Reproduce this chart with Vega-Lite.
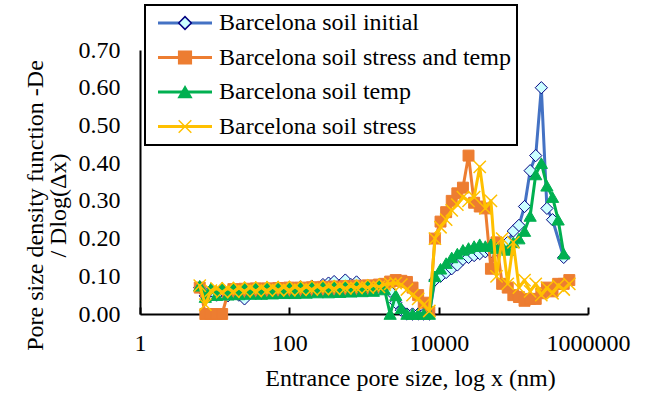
{
"$schema": "https://vega.github.io/schema/vega-lite/v6.json",
"width": 448, "height": 264,
"autosize": "none",
"padding": {"left": 140, "top": 50, "right": 64, "bottom": 80},
"background": "white",
"config": {"view": {"stroke": null}, "font": "Liberation Serif", "legend": {"strokeWidth": 2}},
"datasets": {
"A": [{"x":6.31,"y":0.07},{"x":7.5,"y":0.048},{"x":8.91,"y":0.062},{"x":10.6,"y":0.05},{"x":12.6,"y":0.064},{"x":15,"y":0.048},{"x":17.8,"y":0.062},{"x":21.1,"y":0.05},{"x":25.1,"y":0.04},{"x":29.9,"y":0.058},{"x":35.5,"y":0.062},{"x":42.2,"y":0.055},{"x":50.1,"y":0.066},{"x":59.6,"y":0.056},{"x":70.8,"y":0.068},{"x":84.1,"y":0.058},{"x":100,"y":0.07},{"x":119,"y":0.06},{"x":141,"y":0.072},{"x":168,"y":0.062},{"x":200,"y":0.074},{"x":237,"y":0.066},{"x":282,"y":0.078},{"x":335,"y":0.082},{"x":398,"y":0.086},{"x":473,"y":0.076},{"x":562,"y":0.09},{"x":668,"y":0.078},{"x":794,"y":0.085},{"x":944,"y":0.07},{"x":1122,"y":0.075},{"x":1334,"y":0.065},{"x":1585,"y":0.075},{"x":1884,"y":0.068},{"x":2239,"y":0.06},{"x":2661,"y":0.03},{"x":3162,"y":0.01},{"x":3758,"y":0},{"x":4467,"y":0},{"x":5309,"y":0},{"x":6310,"y":0},{"x":7499,"y":0},{"x":8913,"y":0.09},{"x":10593,"y":0.1},{"x":12589,"y":0.11},{"x":14962,"y":0.12},{"x":17783,"y":0.13},{"x":21135,"y":0.145},{"x":25119,"y":0.15},{"x":29854,"y":0.155},{"x":35481,"y":0.16},{"x":42170,"y":0.165},{"x":50119,"y":0.165},{"x":59566,"y":0.17},{"x":70795,"y":0.18},{"x":84140,"y":0.19},{"x":100000,"y":0.22},{"x":118850,"y":0.235},{"x":141254,"y":0.285},{"x":167880,"y":0.38},{"x":199526,"y":0.42},{"x":237137,"y":0.6},{"x":281838,"y":0.28},{"x":334965,"y":0.25},{"x":473151,"y":0.15}],
"B": [{"x":6.31,"y":0.07},{"x":7.5,"y":0},{"x":8.91,"y":0},{"x":10.6,"y":0},{"x":12.6,"y":0},{"x":15,"y":0.055},{"x":17.8,"y":0.066},{"x":21.1,"y":0.055},{"x":25.1,"y":0.067},{"x":29.9,"y":0.056},{"x":35.5,"y":0.068},{"x":42.2,"y":0.057},{"x":50.1,"y":0.068},{"x":59.6,"y":0.058},{"x":70.8,"y":0.069},{"x":84.1,"y":0.058},{"x":100,"y":0.07},{"x":119,"y":0.059},{"x":141,"y":0.07},{"x":168,"y":0.06},{"x":200,"y":0.071},{"x":237,"y":0.061},{"x":282,"y":0.072},{"x":335,"y":0.062},{"x":398,"y":0.073},{"x":473,"y":0.063},{"x":562,"y":0.074},{"x":668,"y":0.064},{"x":794,"y":0.075},{"x":944,"y":0.066},{"x":1122,"y":0.076},{"x":1334,"y":0.07},{"x":1585,"y":0.078},{"x":1884,"y":0.08},{"x":2239,"y":0.086},{"x":2661,"y":0.09},{"x":3162,"y":0.088},{"x":3758,"y":0.085},{"x":4467,"y":0.07},{"x":5309,"y":0.05},{"x":6310,"y":0.03},{"x":7499,"y":0.005},{"x":8913,"y":0.2},{"x":10593,"y":0.245},{"x":12589,"y":0.27},{"x":14962,"y":0.3},{"x":17783,"y":0.32},{"x":21135,"y":0.335},{"x":25119,"y":0.42},{"x":29854,"y":0.295},{"x":35481,"y":0.285},{"x":42170,"y":0.28},{"x":50119,"y":0.12},{"x":59566,"y":0.19},{"x":70795,"y":0.08},{"x":84140,"y":0.07},{"x":100000,"y":0.05},{"x":118850,"y":0.045},{"x":141254,"y":0.035},{"x":167880,"y":0.04},{"x":199526,"y":0.04},{"x":237137,"y":0.055},{"x":281838,"y":0.07},{"x":334965,"y":0.06},{"x":398107,"y":0.08},{"x":473151,"y":0.08},{"x":562341,"y":0.09}],
"C": [{"x":6.31,"y":0.075},{"x":7.5,"y":0.045},{"x":8.91,"y":0.068},{"x":10.6,"y":0.05},{"x":12.6,"y":0.069},{"x":15,"y":0.051},{"x":17.8,"y":0.069},{"x":21.1,"y":0.052},{"x":25.1,"y":0.07},{"x":29.9,"y":0.053},{"x":35.5,"y":0.07},{"x":42.2,"y":0.053},{"x":50.1,"y":0.071},{"x":59.6,"y":0.054},{"x":70.8,"y":0.071},{"x":84.1,"y":0.055},{"x":100,"y":0.071},{"x":119,"y":0.055},{"x":141,"y":0.072},{"x":168,"y":0.056},{"x":200,"y":0.072},{"x":237,"y":0.057},{"x":282,"y":0.073},{"x":335,"y":0.057},{"x":398,"y":0.073},{"x":473,"y":0.058},{"x":562,"y":0.074},{"x":668,"y":0.059},{"x":794,"y":0.074},{"x":944,"y":0.06},{"x":1122,"y":0.075},{"x":1334,"y":0.061},{"x":1585,"y":0.076},{"x":1884,"y":0.065},{"x":2239,"y":0},{"x":2661,"y":0.05},{"x":3162,"y":0.015},{"x":3758,"y":0},{"x":4467,"y":0},{"x":5309,"y":0},{"x":6310,"y":0},{"x":7499,"y":0},{"x":8913,"y":0.1},{"x":10593,"y":0.12},{"x":12589,"y":0.135},{"x":14962,"y":0.15},{"x":17783,"y":0.16},{"x":21135,"y":0.17},{"x":25119,"y":0.175},{"x":29854,"y":0.18},{"x":35481,"y":0.185},{"x":42170,"y":0.18},{"x":50119,"y":0.185},{"x":59566,"y":0.175},{"x":70795,"y":0.18},{"x":84140,"y":0.17},{"x":100000,"y":0.19},{"x":118850,"y":0.2},{"x":141254,"y":0.22},{"x":167880,"y":0.26},{"x":199526,"y":0.37},{"x":237137,"y":0.4},{"x":281838,"y":0.34},{"x":334965,"y":0.31},{"x":398107,"y":0.25},{"x":473151,"y":0.16}],
"D": [{"x":6.31,"y":0.075},{"x":7.5,"y":0.025},{"x":8.91,"y":0.062},{"x":10.6,"y":0.068},{"x":12.6,"y":0.058},{"x":15,"y":0.068},{"x":17.8,"y":0.059},{"x":21.1,"y":0.069},{"x":25.1,"y":0.06},{"x":29.9,"y":0.07},{"x":35.5,"y":0.061},{"x":42.2,"y":0.07},{"x":50.1,"y":0.062},{"x":59.6,"y":0.071},{"x":70.8,"y":0.063},{"x":84.1,"y":0.071},{"x":100,"y":0.063},{"x":119,"y":0.072},{"x":141,"y":0.064},{"x":168,"y":0.072},{"x":200,"y":0.065},{"x":237,"y":0.073},{"x":282,"y":0.066},{"x":335,"y":0.073},{"x":398,"y":0.067},{"x":473,"y":0.074},{"x":562,"y":0.068},{"x":668,"y":0.074},{"x":794,"y":0.069},{"x":944,"y":0.075},{"x":1122,"y":0.07},{"x":1334,"y":0.076},{"x":1585,"y":0.072},{"x":1884,"y":0.078},{"x":2239,"y":0.08},{"x":2661,"y":0.082},{"x":3162,"y":0.078},{"x":3758,"y":0.065},{"x":4467,"y":0.05},{"x":5309,"y":0.04},{"x":6310,"y":0.025},{"x":7499,"y":0.008},{"x":8913,"y":0.2},{"x":10593,"y":0.23},{"x":12589,"y":0.25},{"x":14962,"y":0.275},{"x":17783,"y":0.29},{"x":21135,"y":0.31},{"x":25119,"y":0.3},{"x":29854,"y":0.31},{"x":35481,"y":0.39},{"x":42170,"y":0.28},{"x":50119,"y":0.3},{"x":59566,"y":0.1},{"x":70795,"y":0.2},{"x":84140,"y":0.08},{"x":100000,"y":0.19},{"x":118850,"y":0.07},{"x":141254,"y":0.09},{"x":167880,"y":0.06},{"x":199526,"y":0.08},{"x":237137,"y":0.05},{"x":281838,"y":0.07},{"x":334965,"y":0.055},{"x":398107,"y":0.075},{"x":473151,"y":0.065},{"x":562341,"y":0.08}]
},
"encoding": {
  "x": {"field": "x", "type": "quantitative",
    "scale": {"type": "log", "domain": [1, 1000000], "nice": false},
    "axis": {"values": [1, 100, 10000, 1000000], "format": "d", "grid": false,
      "labelFont": "Liberation Serif", "labelFontSize": 24, "labelColor": "black",
      "labelPadding": 24, "labelFlush": false, "labelOverlap": false, "labelBound": false,
      "tickSize": -7, "tickWidth": 2, "tickColor": "black",
      "domainColor": "black", "domainWidth": 2,
      "title": "Entrance pore size, log x (nm)", "titleFont": "Liberation Serif", "titleFontSize": 24,
      "titleFontWeight": "normal", "titleColor": "black", "titleX": 270, "titleY": 71, "titleBaseline": "alphabetic"}},
  "y": {"field": "y", "type": "quantitative",
    "scale": {"domain": [0, 0.7], "nice": false},
    "axis": {"values": [0, 0.1, 0.2, 0.3, 0.4, 0.5, 0.6, 0.7], "format": ".2f", "grid": false,
      "labelFont": "Liberation Serif", "labelFontSize": 24, "labelColor": "black",
      "labelPadding": 20, "ticks": false,
      "domainColor": "black", "domainWidth": 2,
      "title": ["Pore size density function -De", "/ Dlog(Δx)"], "titleFont": "Liberation Serif", "titleFontSize": 24,
      "titleFontWeight": "normal", "titleColor": "black", "titleLineHeight": 23, "titleY": 155, "titlePadding": 8}}
},
"layer": [
  {"data": {"name": "A"}, "mark": {"type": "line", "strokeWidth": 3, "strokeJoin": "round", "strokeCap": "round"},
   "encoding": {"color": {"datum": "Barcelona soil initial", "type": "nominal",
     "scale": {"domain": ["Barcelona soil initial", "Barcelona soil stress and temp", "Barcelona soil temp", "Barcelona soil stress"], "range": ["#4472C4", "#ED7D31", "#00B050", "#FFC000"]},
     "legend": {"orient": "none", "legendX": 5, "legendY": -45, "title": null, "symbolType": "M-5.4,0H5.4", "symbolSize": 100, "symbolStrokeWidth": 3, "symbolOffset": 22, "labelFont": "Liberation Serif", "labelFontSize": 24, "labelColor": "black", "labelOffset": 22, "labelLimit": 0, "rowPadding": 10.5, "padding": 6, "strokeColor": "black", "fillColor": "white"}}}},
  {"data": {"name": "A"}, "mark": {"type": "point", "filled": true, "opacity": 1, "size": 150, "strokeWidth": 1},
   "encoding": {
     "shape": {"datum": "A", "type": "nominal", "scale": {"domain": ["A", "B", "C", "D"], "range": ["diamond", "square", "triangle-up", "M-1,-1L1,1M-1,1L1,-1"]},
       "legend": {"orient": "none", "legendX": 5, "legendY": -45, "title": null, "symbolSize": 160, "symbolStrokeWidth": 1.5, "symbolOffset": 22, "labelFontSize": 24, "labelOpacity": 0, "rowPadding": 10.5, "padding": 6, "strokeColor": "transparent"}},
     "fill": {"datum": "A", "type": "nominal", "scale": {"domain": ["A", "B", "C", "D"], "range": ["#CCFFFF", "#ED7D31", "#00B050", "transparent"]},
       "legend": {"orient": "none", "legendX": 5, "legendY": -45, "title": null, "symbolSize": 160, "symbolStrokeWidth": 1.5, "symbolOffset": 22, "labelFontSize": 24, "labelOpacity": 0, "rowPadding": 10.5, "padding": 6, "strokeColor": "transparent"}},
     "stroke": {"datum": "A", "type": "nominal", "scale": {"domain": ["A", "B", "C", "D"], "range": ["#000080", "#ED7D31", "#00B050", "#FFC000"]},
       "legend": {"orient": "none", "legendX": 5, "legendY": -45, "title": null, "symbolSize": 160, "symbolStrokeWidth": 1.5, "symbolOffset": 22, "labelFontSize": 24, "labelOpacity": 0, "rowPadding": 10.5, "padding": 6, "strokeColor": "transparent"}}}},
  {"data": {"name": "B"}, "mark": {"type": "line", "strokeWidth": 3, "strokeJoin": "round", "strokeCap": "round"},
   "encoding": {"color": {"datum": "Barcelona soil stress and temp", "type": "nominal"}}},
  {"data": {"name": "B"}, "mark": {"type": "point", "filled": true, "opacity": 1, "size": 120, "strokeWidth": 1},
   "encoding": {"shape": {"datum": "B", "type": "nominal"}, "fill": {"datum": "B", "type": "nominal"}, "stroke": {"datum": "B", "type": "nominal"}}},
  {"data": {"name": "C"}, "mark": {"type": "line", "strokeWidth": 3, "strokeJoin": "round", "strokeCap": "round"},
   "encoding": {"color": {"datum": "Barcelona soil temp", "type": "nominal"}}},
  {"data": {"name": "C"}, "mark": {"type": "point", "filled": true, "opacity": 1, "size": 150, "strokeWidth": 1},
   "encoding": {"shape": {"datum": "C", "type": "nominal"}, "fill": {"datum": "C", "type": "nominal"}, "stroke": {"datum": "C", "type": "nominal"}}},
  {"data": {"name": "D"}, "mark": {"type": "line", "strokeWidth": 3, "strokeJoin": "round", "strokeCap": "round"},
   "encoding": {"color": {"datum": "Barcelona soil stress", "type": "nominal"}}},
  {"data": {"name": "D"}, "mark": {"type": "point", "filled": true, "opacity": 1, "size": 150, "strokeWidth": 1.5},
   "encoding": {"shape": {"datum": "D", "type": "nominal"}, "fill": {"datum": "D", "type": "nominal"}, "stroke": {"datum": "D", "type": "nominal"}}}
]
}
